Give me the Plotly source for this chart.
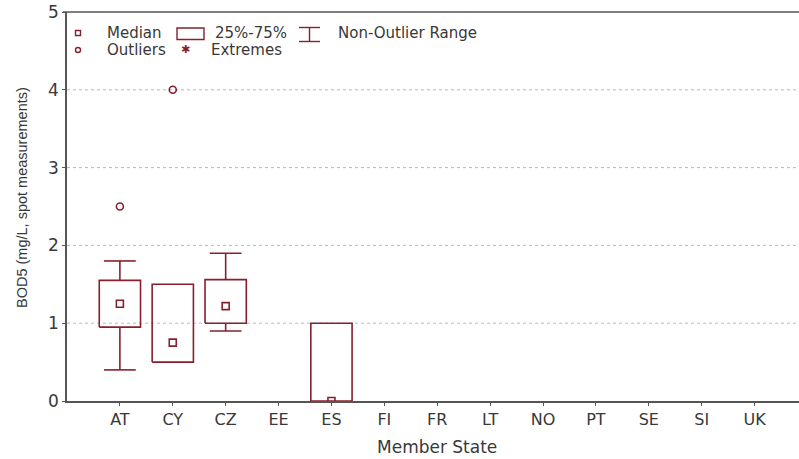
import plotly.graph_objects as go

# Member states on the x axis
states = ["AT", "CY", "CZ", "EE", "ES", "FI", "FR", "LT", "NO", "PT", "SE", "SI", "UK"]

# Box-plot statistics of BOD5 (mg/L) per member state (None = no data)
q1 = [0.95, 0.50, 1.00, None, 0.00, None, None, None, None, None, None, None, None]
q3 = [1.55, 1.50, 1.56, None, 1.00, None, None, None, None, None, None, None, None]
median = [1.25, 0.75, 1.22, None, 0.00, None, None, None, None, None, None, None, None]
whisker_low = [0.40, 0.50, 0.90, None, 0.00, None, None, None, None, None, None, None, None]
whisker_high = [1.80, 1.50, 1.90, None, 1.00, None, None, None, None, None, None, None, None]
outliers = {"AT": [2.5], "CY": [4.0]}

y_ticks = [0, 1, 2, 3, 4, 5]

RED = "#86202e"
TEXT = "#383838"
AXIS = "#555555"
FONT = "Liberation Sans, Arial, sans-serif"
WIDE = "DejaVu Sans, Verdana, sans-serif"

BOX_HALF = 0.39
CAP_HALF = 0.30

W, H = 799, 459
ML, MR, MT, MB = 67, 0, 12, 58
PW, PH = W - ML - MR, H - MT - MB


def px(x):
    return (x - ML) / PW


def py(y):
    return (H - MB - y) / PH


box_x, box_y = [], []
wh_x, wh_y = [], []
med_x, med_y = [], []
for i, s in enumerate(states):
    if q1[i] is None:
        continue
    box_x += [i - BOX_HALF, i + BOX_HALF, i + BOX_HALF, i - BOX_HALF, i - BOX_HALF, None]
    box_y += [q1[i], q1[i], q3[i], q3[i], q1[i], None]
    if whisker_high[i] > q3[i]:
        wh_x += [i, i, None, i - CAP_HALF, i + CAP_HALF, None]
        wh_y += [q3[i], whisker_high[i], None, whisker_high[i], whisker_high[i], None]
    if whisker_low[i] < q1[i]:
        wh_x += [i, i, None, i - CAP_HALF, i + CAP_HALF, None]
        wh_y += [q1[i], whisker_low[i], None, whisker_low[i], whisker_low[i], None]
    med_x.append(i)
    med_y.append(median[i])

out_x, out_y = [], []
for s, vals in outliers.items():
    for v in vals:
        out_x.append(states.index(s))
        out_y.append(v)

fig = go.Figure()
fig.add_trace(go.Scatter(x=box_x, y=box_y, mode="lines",
                         line=dict(color=RED, width=1.6), hoverinfo="skip"))
fig.add_trace(go.Scatter(x=wh_x, y=wh_y, mode="lines",
                         line=dict(color=RED, width=1.6), hoverinfo="skip"))
fig.add_trace(go.Scatter(x=med_x, y=med_y, mode="markers",
                         marker=dict(symbol="square-open", size=7, color=RED,
                                     line=dict(width=1.6))))
fig.add_trace(go.Scatter(x=out_x, y=out_y, mode="markers",
                         marker=dict(symbol="circle-open", size=7, color=RED,
                                     line=dict(width=1.6))))

shapes = []
# dotted horizontal grid lines
for v in y_ticks[1:-1]:
    shapes.append(dict(type="line", xref="paper", yref="y", x0=0, x1=1, y0=v, y1=v,
                       line=dict(color="#b8b8b8", width=1, dash="dot"), layer="below"))
# frame top line
shapes.append(dict(type="line", xref="paper", yref="paper", x0=px(63), x1=1, y0=1, y1=1,
                   line=dict(color=AXIS, width=1.6)))

# legend keys
shapes.append(dict(type="rect", xref="paper", yref="paper",
                   x0=px(75.5), x1=px(80.5), y0=py(35.5), y1=py(30.5),
                   line=dict(color=RED, width=1.4)))
shapes.append(dict(type="circle", xref="paper", yref="paper",
                   x0=px(75.5), x1=px(80.5), y0=py(52.5), y1=py(47.5),
                   line=dict(color=RED, width=1.4)))
shapes.append(dict(type="rect", xref="paper", yref="paper",
                   x0=px(177), x1=px(204), y0=py(39.5), y1=py(28),
                   line=dict(color=RED, width=1.4)))
for yy in (27.5, 41.5):
    shapes.append(dict(type="line", xref="paper", yref="paper",
                       x0=px(299), x1=px(320), y0=py(yy), y1=py(yy),
                       line=dict(color=RED, width=1.4)))
shapes.append(dict(type="line", xref="paper", yref="paper",
                   x0=px(309.5), x1=px(309.5), y0=py(27.5), y1=py(41.5),
                   line=dict(color=RED, width=1.4)))

annotations = []


def label(text, x, y, size=15, color=TEXT, xanchor="left", family=WIDE):
    annotations.append(dict(text=text, xref="paper", yref="paper", x=px(x), y=py(y),
                            xanchor=xanchor, yanchor="middle", showarrow=False,
                            font=dict(family=family, size=size, color=color)))


label("Median", 105, 33)
label("25%-75%", 213, 33)
label("Non-Outlier Range", 336, 33)
label("Outliers", 105, 50)
label("✱", 185, 50, size=11, color=RED, xanchor="center")
label("Extremes", 209, 50)

annotations.append(dict(text="BOD5 (mg/L, spot measurements)", xref="paper", yref="paper",
                        x=px(22), y=py(198), textangle=-90, showarrow=False,
                        xanchor="center", yanchor="middle",
                        font=dict(family=FONT, size=14.5, color=TEXT)))
annotations.append(dict(text="Member State", xref="paper", yref="paper",
                        x=px(437), y=py(447), showarrow=False,
                        xanchor="center", yanchor="middle",
                        font=dict(family=WIDE, size=17, color=TEXT)))

fig.update_layout(
    width=W, height=H,
    margin=dict(l=ML, r=MR, t=MT, b=MB),
    paper_bgcolor="white", plot_bgcolor="white",
    showlegend=False,
    shapes=shapes, annotations=annotations,
    font=dict(family=FONT, color=TEXT),
)
fig.update_xaxes(range=[-1.0, 12.84], tickmode="array",
                 tickvals=list(range(len(states))), ticktext=states,
                 showgrid=False, zeroline=False, showline=True, linecolor=AXIS, linewidth=1.6,
                 ticks="outside", ticklen=3, tickcolor=AXIS,
                 tickfont=dict(family=WIDE, size=16, color=TEXT))
fig.update_yaxes(range=[0, 5], tickmode="array", tickvals=y_ticks,
                 showgrid=False, zeroline=False, showline=True, linecolor=AXIS, linewidth=1.6,
                 ticks="outside", ticklen=3, tickcolor=AXIS,
                 tickfont=dict(family=WIDE, size=17, color=TEXT))

fig.write_html("out.html")
